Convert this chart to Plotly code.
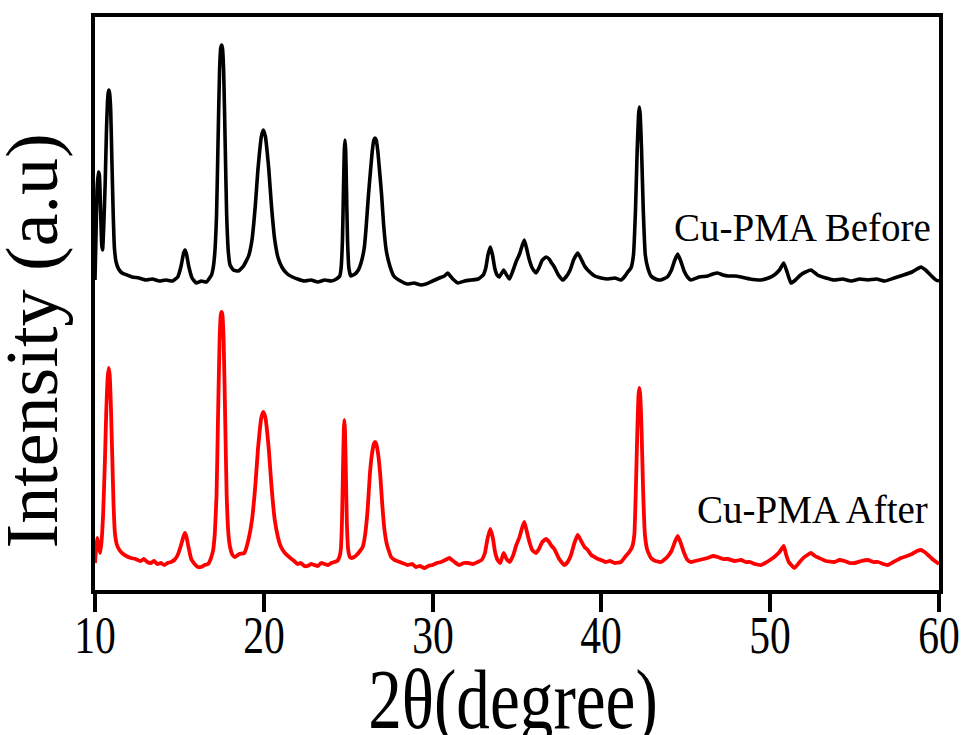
import plotly.graph_objects as go

# XRD patterns of Cu-PMA: (2-theta in degrees, intensity in arbitrary units)
before_pattern = [
    (10.00, 0), (10.06, 45), (10.12, 90), (10.20, 108), (10.26, 105), (10.33, 70), (10.40, 35),
    (10.45, 30), (10.52, 55), (10.60, 95), (10.68, 150), (10.74, 178), (10.79, 188), (10.83, 190),
    (10.87, 186), (10.93, 170), (11.00, 120), (11.08, 65), (11.15, 32), (11.25, 18), (11.40, 11),
    (11.60, 7), (11.90, 5), (12.20, 3), (12.60, 2), (13.00, 0), (13.40, 1), (13.80, -1), (14.20, 0),
    (14.60, -1), (14.90, 3), (15.10, 14), (15.25, 27), (15.33, 30), (15.42, 26), (15.55, 14),
    (15.75, 2), (16.00, -3), (16.30, -1), (16.60, -2), (16.90, 5), (17.00, 12), (17.10, 28),
    (17.20, 65), (17.28, 130), (17.38, 210), (17.45, 232), (17.50, 235), (17.55, 232), (17.62, 210),
    (17.72, 130), (17.80, 65), (17.90, 28), (18.00, 15), (18.20, 10), (18.50, 9), (18.80, 14),
    (19.10, 24), (19.30, 40), (19.50, 75), (19.65, 110), (19.75, 128), (19.85, 143), (19.97, 150),
    (20.10, 143), (20.20, 128), (20.30, 110), (20.45, 75), (20.65, 40), (20.85, 22), (21.10, 12),
    (21.40, 6), (21.70, 3), (22.00, 1), (22.40, -1), (22.80, 0), (23.20, -2), (23.60, 0), (24.00, -1),
    (24.30, 1), (24.50, 4), (24.58, 12), (24.66, 40), (24.72, 90), (24.77, 130), (24.81, 140),
    (24.85, 130), (24.90, 90), (24.96, 40), (25.04, 12), (25.15, 4), (25.40, 6), (25.60, 10),
    (25.76, 17), (25.95, 32), (26.05, 50), (26.20, 85), (26.30, 105), (26.42, 128), (26.52, 140),
    (26.59, 142), (26.66, 140), (26.76, 128), (26.88, 105), (26.98, 85), (27.10, 55), (27.25, 30),
    (27.45, 15), (27.70, 4), (28.10, -1), (28.50, -4), (28.90, -3), (29.30, -5), (29.60, -4),
    (30.00, -1), (30.40, 2), (30.70, 4), (30.90, 7), (31.05, 4), (31.20, 1), (31.50, -3), (31.90, -1),
    (32.30, 0), (32.70, 1), (33.00, 5), (33.15, 12), (33.28, 25), (33.42, 33), (33.55, 25),
    (33.68, 12), (33.82, 5), (33.95, 3), (34.10, 7), (34.21, 10), (34.35, 6), (34.55, 1), (34.75, 9),
    (34.94, 18), (35.15, 26), (35.30, 34), (35.43, 40), (35.55, 33), (35.70, 22), (35.90, 12),
    (36.13, 7), (36.30, 12), (36.50, 20), (36.72, 23), (36.90, 21), (37.05, 17), (37.21, 13),
    (37.45, 5), (37.71, 0), (37.90, 3), (38.15, 10), (38.35, 20), (38.60, 27), (38.80, 21),
    (39.00, 14), (39.19, 10), (39.60, 4), (39.98, 2), (40.40, 1), (40.80, 2), (41.16, 0), (41.40, 4),
    (41.56, 8), (41.75, 12), (41.90, 25), (42.02, 70), (42.12, 130), (42.20, 165), (42.25, 173),
    (42.30, 165), (42.38, 130), (42.48, 70), (42.60, 25), (42.75, 12), (42.94, 4), (43.20, 1),
    (43.53, 0), (43.90, 3), (44.15, 10), (44.35, 20), (44.52, 26), (44.70, 19), (44.90, 9),
    (45.10, 3), (45.30, 0), (45.80, 3), (46.30, 4), (46.60, 6), (46.89, 7), (47.20, 5), (47.50, 4),
    (47.90, 4), (48.27, 3), (48.80, 1), (49.45, 0), (49.90, 2), (50.24, 5), (50.55, 10), (50.80, 17),
    (51.00, 8), (51.23, -3), (51.50, 0), (51.80, 5), (52.10, 8), (52.42, 10), (52.80, 5), (53.30, 2),
    (53.80, 0), (54.30, 1), (54.80, -1), (55.30, 1), (55.78, 0), (56.30, 1), (56.80, -1), (57.35, 2),
    (57.90, 5), (58.40, 8), (58.70, 11), (58.93, 13), (59.20, 10), (59.50, 5), (59.82, 0), (60.00, -1),
]

after_pattern = [
    (10.00, 2), (10.07, 18), (10.14, 27), (10.22, 18), (10.30, 12), (10.38, 22), (10.48, 50),
    (10.58, 100), (10.67, 155), (10.74, 185), (10.81, 197), (10.87, 190), (10.94, 160), (11.02, 110),
    (11.10, 60), (11.18, 32), (11.30, 20), (11.45, 15), (11.60, 12), (11.85, 9), (12.13, 7),
    (12.40, 6), (12.70, 4), (12.90, 6), (13.10, 3), (13.30, 2), (13.50, 4), (13.70, 1), (13.90, 2),
    (14.10, 0), (14.30, 2), (14.50, 3), (14.70, 5), (14.90, 10), (15.10, 20), (15.25, 29), (15.33, 32),
    (15.42, 28), (15.55, 17), (15.70, 6), (15.90, 1), (16.10, -2), (16.28, -2), (16.50, 0), (16.70, 1),
    (16.85, 6), (17.00, 15), (17.10, 32), (17.20, 70), (17.28, 140), (17.38, 225), (17.45, 250),
    (17.50, 253), (17.55, 250), (17.62, 225), (17.72, 140), (17.80, 70), (17.90, 32), (18.00, 18),
    (18.15, 10), (18.30, 8), (18.55, 11), (18.85, 12), (19.10, 26), (19.30, 45), (19.50, 80),
    (19.65, 115), (19.75, 133), (19.85, 147), (19.97, 153), (20.10, 147), (20.20, 133), (20.30, 115),
    (20.45, 80), (20.65, 45), (20.85, 27), (21.02, 18), (21.25, 12), (21.50, 8), (21.80, 4),
    (22.00, 1), (22.20, 2), (22.40, -1), (22.60, -1), (22.80, 1), (22.99, 0), (23.20, -1), (23.40, 2),
    (23.60, 1), (23.80, 0), (24.00, 2), (24.18, 3), (24.35, 4), (24.48, 8), (24.56, 15), (24.63, 42),
    (24.69, 95), (24.74, 135), (24.77, 145), (24.81, 135), (24.86, 95), (24.92, 42), (25.00, 15),
    (25.10, 8), (25.17, 7), (25.35, 8), (25.50, 10), (25.70, 14), (25.86, 18), (26.00, 30),
    (26.15, 55), (26.28, 90), (26.40, 110), (26.52, 121), (26.59, 123), (26.66, 121), (26.78, 110),
    (26.90, 90), (27.02, 60), (27.15, 35), (27.30, 20), (27.54, 8), (27.75, 5), (27.90, 4),
    (28.20, 2), (28.52, 0), (28.80, 1), (29.00, -2), (29.25, -1), (29.51, -3), (29.75, -1),
    (30.00, 0), (30.25, 2), (30.50, 3), (30.75, 5), (30.99, 7), (31.15, 5), (31.30, 3), (31.58, 0),
    (31.85, 2), (32.10, 2), (32.40, 1), (32.67, 3), (32.90, 5), (33.10, 12), (33.25, 26), (33.42, 36),
    (33.57, 27), (33.70, 13), (33.85, 5), (34.01, 2), (34.21, 12), (34.38, 6), (34.57, 3), (34.78, 10),
    (34.96, 20), (35.15, 28), (35.30, 37), (35.43, 43), (35.56, 35), (35.72, 24), (35.90, 15),
    (36.13, 12), (36.30, 16), (36.50, 23), (36.72, 26), (36.90, 23), (37.05, 19), (37.21, 16),
    (37.50, 6), (37.80, 0), (38.00, 3), (38.20, 10), (38.40, 22), (38.60, 30), (38.80, 24),
    (39.00, 18), (39.19, 15), (39.40, 10), (39.60, 8), (39.80, 6), (39.98, 5), (40.25, 3), (40.50, 4),
    (40.80, 2), (41.16, 3), (41.40, 8), (41.65, 13), (41.82, 18), (41.95, 30), (42.04, 75),
    (42.13, 135), (42.20, 170), (42.25, 177), (42.30, 170), (42.38, 135), (42.47, 75), (42.58, 30),
    (42.72, 15), (42.94, 7), (43.20, 4), (43.53, 3), (43.90, 8), (44.15, 14), (44.35, 23), (44.52, 29),
    (44.70, 22), (44.90, 12), (45.10, 5), (45.30, 3), (45.55, 4), (45.80, 5), (46.05, 6), (46.30, 7),
    (46.60, 9), (46.89, 8), (47.20, 6), (47.50, 6), (47.90, 4), (48.27, 5), (48.55, 3), (48.80, 3),
    (49.10, 1), (49.45, 0), (49.70, 2), (49.90, 4), (50.24, 8), (50.55, 13), (50.80, 19), (50.95, 10),
    (51.10, 3), (51.43, -3), (51.70, 2), (51.90, 6), (52.20, 10), (52.42, 12), (52.65, 9), (52.90, 7),
    (53.30, 4), (53.80, 3), (54.10, 5), (54.40, 4), (54.70, 2), (55.00, 2), (55.40, 4), (55.78, 5),
    (56.10, 3), (56.40, 3), (56.70, 1), (56.96, 0), (57.30, 3), (57.75, 7), (58.10, 9), (58.40, 11),
    (58.70, 14), (58.93, 15), (59.15, 13), (59.35, 10), (59.60, 6), (59.92, 2), (60.00, 1),
]

series_names = ["Cu-PMA Before", "Cu-PMA After"]
x_ticks = [10, 20, 30, 40, 50, 60]
x_tick_labels = ["10", "20", "30", "40", "50", "60"]
x_title = "2θ(degree)"
y_title = "Intensity (a.u)"

# vertical shift that stacks the "Before" pattern above the "After" one
before_offset = 285

FONT = "Liberation Serif, Times New Roman, serif"

bx, by = zip(*before_pattern)
ax_, ay = zip(*after_pattern)

fig = go.Figure()
fig.add_trace(go.Scatter(
    x=list(bx), y=[v + before_offset for v in by],
    mode="lines", line=dict(color="black", width=3.6, shape="spline", smoothing=0.4),
    name=series_names[0],
))
fig.add_trace(go.Scatter(
    x=list(ax_), y=list(ay),
    mode="lines", line=dict(color="#ff0000", width=3.8, shape="spline", smoothing=0.4),
    name=series_names[1],
))

# tick numbers sit close under the long outside ticks, so they are placed as annotations
tick_annotations = [
    dict(text=lab, xref="x", yref="paper", x=val, y=-0.079,
         xanchor="center", yanchor="middle", showarrow=False,
         font=dict(family=FONT, size=52, color="black"))
    for val, lab in zip(x_ticks, x_tick_labels)
]

fig.update_layout(
    width=964, height=735,
    margin=dict(l=95, r=25, t=17, b=145),
    paper_bgcolor="white", plot_bgcolor="white",
    showlegend=False,
    font=dict(family=FONT, color="black"),
    xaxis=dict(
        range=[10, 60], tickmode="array", tickvals=x_ticks, showticklabels=False,
        ticks="outside", ticklen=18, tickwidth=4, tickcolor="black",
        showline=True, linewidth=4, linecolor="black", mirror=True,
        showgrid=False, zeroline=False,
    ),
    yaxis=dict(
        range=[-25, 548], showticklabels=False, ticks="",
        showline=True, linewidth=4, linecolor="black", mirror=True,
        showgrid=False, zeroline=False,
    ),
    annotations=tick_annotations + [
        dict(text=x_title, xref="paper", yref="paper", x=0.495, y=-0.192,
             xanchor="center", yanchor="middle", showarrow=False,
             font=dict(family=FONT, size=84, color="black")),
        dict(text=y_title, xref="paper", yref="paper", x=-0.075, y=0.435,
             xanchor="center", yanchor="middle", textangle=-90, showarrow=False,
             font=dict(family=FONT, size=74, color="black")),
        dict(text=series_names[0], xref="paper", yref="paper", x=0.9925, y=0.632,
             xanchor="right", yanchor="middle", showarrow=False,
             font=dict(family=FONT, size=39, color="black")),
        dict(text=series_names[1], xref="paper", yref="paper", x=0.989, y=0.14,
             xanchor="right", yanchor="middle", showarrow=False,
             font=dict(family=FONT, size=39, color="black")),
    ],
)

# The x-axis numbers and title use a narrow face: compress their glyphs horizontally.
narrow_count = len(tick_annotations) + 1
condense_js = """
var gd = document.getElementById('{plot_id}');
function condenseXText() {
  for (var i = 0; i < %d; i++) {
    gd.querySelectorAll('g.annotation[data-index="' + i + '"] text').forEach(function (t) {
      if (t.getAttribute('data-condensed')) { return; }
      var w = t.getComputedTextLength();
      t.setAttribute('lengthAdjust', 'spacingAndGlyphs');
      t.setAttribute('textLength', (w * 0.8).toFixed(1));
      t.setAttribute('data-condensed', '1');
    });
  }
}
condenseXText();
gd.on('plotly_afterplot', condenseXText);
""" % narrow_count

fig.write_html("out.html", post_script=condense_js)
